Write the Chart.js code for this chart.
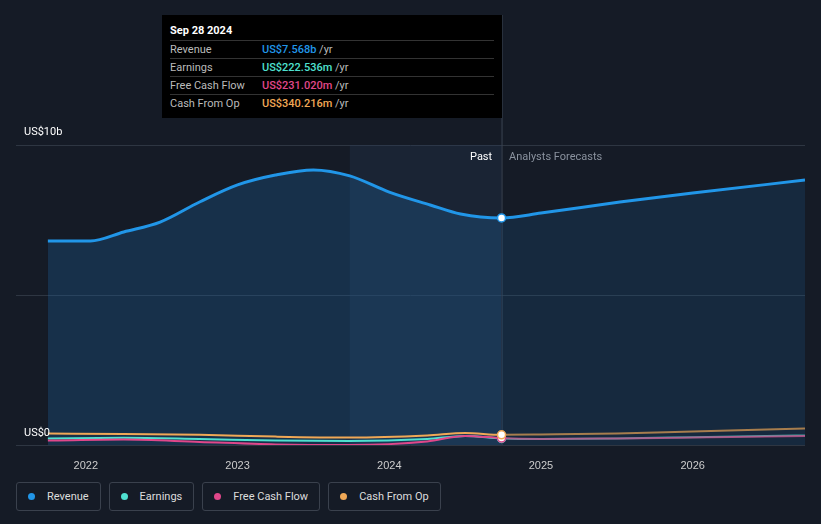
<!DOCTYPE html>
<html><head><meta charset="utf-8">
<script src="https://cdn.jsdelivr.net/npm/chart.js@4.4.0/dist/chart.umd.min.js"></script>
<style>
body{margin:0;background:#151b26;font-family:Roboto,"Open Sans",sans-serif;color:#fff;width:821px;height:524px;overflow:hidden;position:relative}
#wrap{position:absolute;left:0;top:0;width:821px;height:470px}
.lbl{position:absolute;font-size:11px;color:#fff}
#tip{position:absolute;left:162px;top:15px;width:340px;height:103px;background:#000;font-size:11px}
#tip .h{padding:9px 8px 3px;font-weight:bold}
#tip .r{display:flex;border-top:1px solid #333;margin:0 8px;height:17px;line-height:17px;color:#bbb}
#tip .r span:first-child{width:92px}
#legend{position:absolute;top:482px;left:16px;display:flex;gap:8px}
.lg{border:1px solid #3a414d;border-radius:3px;height:27px;padding:0 11px;display:flex;align-items:center;font-size:11px;color:#ddd}
.lg i{width:7px;height:7px;border-radius:50%;margin-right:12px;display:inline-block}
</style></head><body>
<div id="wrap"><canvas id="c" width="821" height="470"></canvas></div>
<div class="lbl" style="left:24px;top:125px">US$10b</div>
<div class="lbl" style="left:24px;top:426px">US$0</div>
<div class="lbl" style="left:470px;top:150px">Past</div>
<div class="lbl" style="left:509px;top:150px;color:#8a929e">Analysts Forecasts</div>
<div id="tip">
<div class="h">Sep 28 2024</div>
<div class="r"><span>Revenue</span><span><b style="color:#2196e8;font-weight:500">US$7.568b</b> /yr</span></div>
<div class="r"><span>Earnings</span><span><b style="color:#4fe0d0;font-weight:500">US$222.536m</b> /yr</span></div>
<div class="r"><span>Free Cash Flow</span><span><b style="color:#e0478a;font-weight:500">US$231.020m</b> /yr</span></div>
<div class="r"><span>Cash From Op</span><span><b style="color:#f0a856;font-weight:500">US$340.216m</b> /yr</span></div>
</div>
<div id="legend">
<div class="lg"><i style="background:#2196e8"></i>Revenue</div>
<div class="lg"><i style="background:#4fe0d0"></i>Earnings</div>
<div class="lg"><i style="background:#e0478a"></i>Free Cash Flow</div>
<div class="lg"><i style="background:#f0a856"></i>Cash From Op</div>
</div>
<script>
const PAST_END = 2024.74;
const revX = [2021.75,2022.03,2022.25,2022.49,2022.75,2023,2023.25,2023.5,2023.74,2024,2024.27,2024.47,2024.74,2025,2025.52,2026,2026.74];
const revY = [6.8,6.8,7.1,7.43,8.1,8.67,9.0,9.17,8.97,8.43,8.0,7.7,7.57,7.73,8.1,8.4,8.83];
const smallX = [2021.75,2022.25,2022.75,2023.25,2023.74,2024.25,2024.5,2024.74,2025,2025.5,2026,2026.74];
const earnY = [0.22,0.24,0.2,0.15,0.13,0.2,0.3,0.22,0.2,0.22,0.26,0.32];
const fcfY = [0.15,0.18,0.1,0.02,0.0,0.12,0.3,0.23,0.2,0.22,0.25,0.3];
const cfoY = [0.38,0.37,0.34,0.28,0.25,0.32,0.4,0.34,0.35,0.38,0.45,0.55];
const pts = (xs, ys) => xs.map((x, i) => ({x, y: ys[i]}));
const dot = xs => xs.map(x => x === PAST_END ? 4 : 0);
const past = ctx => ctx.p1.parsed.x <= PAST_END + 0.001;

const shade = {
  id: 'shade',
  beforeDatasetsDraw(chart) {
    const {ctx, chartArea, scales} = chart;
    const x1 = scales.x.getPixelForValue(2023.74), x2 = scales.x.getPixelForValue(PAST_END);
    ctx.save();
    ctx.fillStyle = 'rgba(40,60,85,0.3)';
    ctx.fillRect(x1, chartArea.top, x2 - x1, chartArea.bottom - chartArea.top);
    ctx.strokeStyle = '#3a4452';
    ctx.beginPath(); ctx.moveTo(x2 + 0.5, 15); ctx.lineTo(x2 + 0.5, chartArea.bottom); ctx.stroke();
    ctx.restore();
  }
};

function small(label, ys, color) {
  return {label, data: pts(smallX, ys), borderColor: color, borderWidth: 2, cubicInterpolationMode: 'monotone',
    pointRadius: dot(smallX), pointBackgroundColor: '#fff', pointBorderColor: color, pointBorderWidth: 1.5,
    segment: {borderColor: c => past(c) ? color : color + 'aa'}};
}

new Chart(document.getElementById('c'), {
  type: 'line',
  data: {datasets: [
    small('Cash From Op', cfoY, '#f0a856'),
    small('Free Cash Flow', fcfY, '#e0478a'),
    small('Earnings', earnY, '#4fe0d0'),
    {label: 'Revenue', data: pts(revX, revY), borderColor: '#2196e8', borderWidth: 3, cubicInterpolationMode: 'monotone',
      pointRadius: dot(revX), pointBackgroundColor: '#fff', pointBorderColor: '#2196e8', pointBorderWidth: 1.5,
      fill: 'origin',
      segment: {backgroundColor: c => past(c) ? 'rgba(30,100,160,0.3)' : 'rgba(30,100,160,0.2)'}}
  ]},
  options: {
    responsive: false, animation: false,
    layout: {padding: {left: 16, right: 16, top: 145, bottom: 0}},
    plugins: {legend: {display: false}, tooltip: {enabled: false}},
    scales: {
      x: {type: 'linear', min: 2021.54, max: 2026.74,
        afterFit: s => { s.height = 25; },
        grid: {display: false}, border: {display: false},
        ticks: {stepSize: 1, color: '#ccc', font: {size: 11}, padding: 6,
          callback: v => Number.isInteger(v) ? String(v) : ''}},
      y: {min: 0, max: 10, display: true,
        afterFit: s => { s.width = 0; },
        ticks: {display: false, stepSize: 5},
        grid: {color: '#2e3642', drawTicks: false}, border: {display: false}}
    }
  },
  plugins: [shade]
});
</script>
</body></html>
